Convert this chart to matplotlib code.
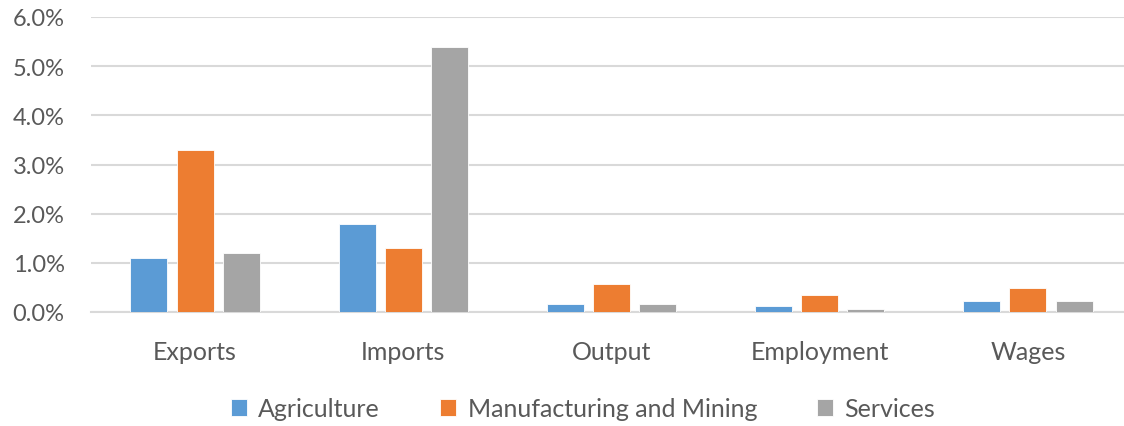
import matplotlib
matplotlib.use("Agg")
import matplotlib.pyplot as plt
import numpy as np
from matplotlib.ticker import FuncFormatter

categories = ["Exports", "Imports", "Output", "Employment", "Wages"]
agriculture = [1.1, 1.8, 0.17, 0.12, 0.22]
manufacturing = [3.3, 1.3, 0.56, 0.35, 0.48]
services = [1.2, 5.4, 0.17, 0.07, 0.22]
series_names = ["Agriculture", "Manufacturing and Mining", "Services"]
colors = ["#5B9BD5", "#ED7D31", "#A5A5A5"]

plt.rcParams['font.family'] = ['Lato', 'DejaVu Sans']
text_color = "#595959"

fig = plt.figure(figsize=(11.24, 4.27), dpi=100)
ax = fig.add_axes([91/1124, 114/427, 1041/1124, 295/427])

x = np.arange(len(categories))
w = 0.178
step = 0.222
for i, (vals, name, c) in enumerate(zip([agriculture, manufacturing, services], series_names, colors)):
    ax.bar(x + (i - 1) * step, vals, width=w, color=c, label=name,
           edgecolor="white", linewidth=0.6, zorder=3)

ax.set_xlim(-0.5, len(categories) - 0.5)
ax.set_ylim(0, 6)
ax.set_yticks(np.arange(0, 7, 1))
ax.yaxis.set_major_formatter(FuncFormatter(lambda v, p: f"{v:.1f}%"))
ax.set_xticks(x)
ax.set_xticklabels(categories)
ax.grid(axis="y", color="#D9D9D9", linewidth=1.5, zorder=0)
ax.set_axisbelow(True)
for s in ["top", "right", "left"]:
    ax.spines[s].set_visible(False)
ax.spines["bottom"].set_color("#D9D9D9")
ax.spines["bottom"].set_linewidth(1.5)
ax.tick_params(axis="both", length=0, labelcolor=text_color)
ax.tick_params(axis="y", pad=19, labelsize=17)
ax.tick_params(axis="x", pad=20, labelsize=18)

handles, labels = ax.get_legend_handles_labels()
fig.legend(handles, labels, loc="center", bbox_to_anchor=(583/1124, 1 - 410/427),
           ncol=3, frameon=False, fontsize=18, labelcolor=text_color,
           handlelength=0.65, handleheight=0.65, handletextpad=0.45, columnspacing=2.4)

fig.savefig("out.png", dpi=100)
